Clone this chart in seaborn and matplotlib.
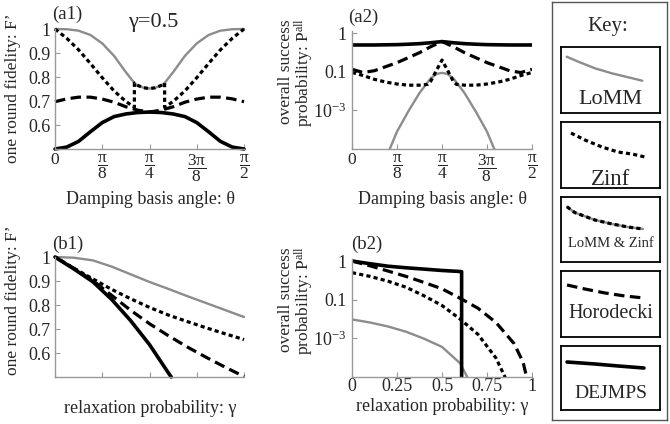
import numpy as np
import matplotlib
matplotlib.use("Agg")
import matplotlib.pyplot as plt
from matplotlib.ticker import NullLocator
import seaborn as sns

# ---------------- data ----------------
# (a1) one round fidelity vs damping basis angle; theta given in units of pi/2
a1_grid = [0, 0.0625, 0.125, 0.1875, 0.25, 0.3125, 0.375, 0.4375, 0.5,
           0.5625, 0.625, 0.6875, 0.75, 0.8125, 0.875, 0.9375, 1.0]
a1_lomm_theta = [0, 0.0625, 0.125, 0.1875, 0.25, 0.3125, 0.375, 0.42, 0.4375, 0.47, 0.5,
                 0.53, 0.5625, 0.58, 0.625, 0.6875, 0.75, 0.8125, 0.875, 0.9375, 1.0]
a1_lomm = [1.0, 0.999, 0.993, 0.975, 0.94, 0.888, 0.82, 0.775, 0.765, 0.755, 0.752,
           0.755, 0.765, 0.775, 0.82, 0.888, 0.94, 0.975, 0.993, 0.999, 1.0]
a1_zinf_theta = [0, 0.0625, 0.125, 0.1875, 0.25, 0.3125, 0.375, 0.42, 0.42, 0.4375, 0.47, 0.5,
                 0.53, 0.5625, 0.58, 0.58, 0.625, 0.6875, 0.75, 0.8125, 0.875, 0.9375, 1.0]
a1_zinf = [1.0, 0.961, 0.913, 0.856, 0.797, 0.742, 0.698, 0.674, 0.775, 0.765, 0.755, 0.752,
           0.755, 0.765, 0.775, 0.674, 0.698, 0.742, 0.797, 0.856, 0.913, 0.961, 1.0]
a1_horo = [0.697, 0.709, 0.716, 0.716, 0.708, 0.695, 0.676, 0.662, 0.654,
           0.662, 0.676, 0.695, 0.708, 0.716, 0.716, 0.709, 0.697]
a1_dejmps = [0.5, 0.508, 0.532, 0.572, 0.61, 0.635, 0.646, 0.652, 0.654,
             0.652, 0.646, 0.635, 0.61, 0.572, 0.532, 0.508, 0.5]

# (a2) overall success probability vs damping basis angle
a2_dejmps = [0.49, 0.49, 0.49, 0.495, 0.5, 0.513, 0.53, 0.56, 0.6,
             0.56, 0.53, 0.513, 0.5, 0.495, 0.49, 0.49, 0.49]
a2_horo = [0.115, 0.09, 0.106, 0.135, 0.171, 0.23, 0.31, 0.443, 0.6,
           0.443, 0.31, 0.23, 0.171, 0.135, 0.106, 0.09, 0.115]
a2_zinf_theta = [0, 0.0625, 0.125, 0.1875, 0.25, 0.3125, 0.375, 0.42, 0.4375, 0.47, 0.5,
                 0.53, 0.5625, 0.58, 0.625, 0.6875, 0.75, 0.8125, 0.875, 0.9375, 1.0]
a2_zinf = [0.091, 0.063, 0.040, 0.029, 0.023, 0.020, 0.020, 0.022, 0.032, 0.110, 0.2,
           0.110, 0.032, 0.022, 0.020, 0.020, 0.023, 0.029, 0.040, 0.063, 0.091]
a2_lomm_theta = [0.1875, 0.25, 0.3125, 0.375, 0.4375, 0.47, 0.5,
                 0.53, 0.5625, 0.625, 0.6875, 0.75, 0.8125]
a2_lomm = [3.2e-6, 7.9e-5, 8.7e-4, 0.0079, 0.046, 0.076, 0.087,
           0.076, 0.046, 0.0079, 8.7e-4, 7.9e-5, 3.2e-6]

# (b1) one round fidelity vs relaxation probability
b_gamma = [0, 0.1, 0.2, 0.3, 0.4, 0.5, 0.6, 0.7, 0.8, 0.9, 1.0]
b1_lomm = [1.0, 0.997, 0.986, 0.96, 0.928, 0.896, 0.867, 0.837, 0.808, 0.779, 0.75]
b1_zinf = [1.0, 0.953, 0.909, 0.865, 0.826, 0.79, 0.758, 0.731, 0.705, 0.68, 0.656]
b1_horo = [1.0, 0.953, 0.902, 0.84, 0.778, 0.722, 0.672, 0.625, 0.582, 0.541, 0.502]
b1_dejmps_gamma = [0, 0.1, 0.2, 0.3, 0.4, 0.5, 0.6, 0.615]
b1_dejmps = [1.0, 0.95, 0.897, 0.823, 0.735, 0.635, 0.517, 0.5]

# (b2) overall success probability vs relaxation probability
b2_dejmps_gamma = [0, 0.1, 0.2, 0.3, 0.4, 0.5, 0.6, 0.609, 0.609]
b2_dejmps = [1.0, 0.85, 0.733, 0.668, 0.617, 0.569, 0.535, 0.53, 1e-7]
b2_horo_gamma = [0, 0.1, 0.2, 0.3, 0.4, 0.5, 0.6, 0.7, 0.8, 0.9, 0.95, 0.97, 0.98]
b2_horo = [1.0, 0.75, 0.55, 0.40, 0.279, 0.191, 0.109, 0.036, 0.0066, 5.4e-4, 6e-5, 1e-5, 1e-7]
b2_zinf_gamma = [0, 0.1, 0.2, 0.3, 0.4, 0.5, 0.6, 0.7, 0.8, 0.85, 0.86]
b2_zinf = [0.50, 0.40, 0.30, 0.21, 0.126, 0.05, 0.01, 1.6e-3, 9.5e-5, 1e-5, 1e-7]
b2_lomm_gamma = [0, 0.1, 0.2, 0.3, 0.4, 0.5, 0.6, 0.64, 0.66]
b2_lomm = [0.0095, 0.0066, 0.0041, 0.0022, 9.6e-4, 3.6e-4, 5.2e-5, 1e-5, 1e-6]

# ticks / labels
theta_ticks = [0, 0.125, 0.25, 0.375, 0.5]      # in units of pi
theta_labels = ["0", r"$\dfrac{\mathrm{\pi}}{8}$", r"$\dfrac{\mathrm{\pi}}{4}$",
                r"$\dfrac{3\mathrm{\pi}}{8}$", r"$\dfrac{\mathrm{\pi}}{2}$"]
fid_ticks = [0.6, 0.7, 0.8, 0.9, 1.0]
fid_labels = ["0.6", "0.7", "0.8", "0.9", "1"]
prob_ticks = [1e-3, 0.1, 1.0]
prob_labels = [r"10$^{-3}$", "0.1", "1"]
gamma_ticks = [0, 0.25, 0.5, 0.75, 1.0]
gamma_labels = ["0", "0.25", "0.5", "0.75", "1"]

# key sample curves (box-relative coordinates)
key_names = ["LoMM", "Zinf", "LoMM & Zinf", "Horodecki", "DEJMPS"]
key_x = {
    "LoMM": [0.058, 0.175, 0.343, 0.512, 0.68, 0.821],
    "Zinf": [0.101, 0.242, 0.414, 0.576, 0.717, 0.848],
    "LoMM & Zinf": [0.06, 0.14, 0.343, 0.515, 0.677, 0.828],
    "Horodecki": [0.061, 0.242, 0.444, 0.646, 0.838],
    "DEJMPS": [0.061, 0.343, 0.576, 0.838],
}
key_y = {
    "LoMM": [0.853, 0.777, 0.677, 0.602, 0.541, 0.489],
    "Zinf": [0.833, 0.727, 0.621, 0.545, 0.515, 0.47],
    "LoMM & Zinf": [0.85, 0.76, 0.646, 0.585, 0.538, 0.508],
    "Horodecki": [0.788, 0.727, 0.667, 0.621, 0.591],
    "DEJMPS": [0.75, 0.719, 0.688, 0.656],
}

# ---------------- style ----------------
sns.set_style("white")
plt.rcParams["font.family"] = ["Liberation Serif", "DejaVu Serif"]
plt.rcParams["mathtext.fontset"] = "custom"
plt.rcParams["mathtext.rm"] = "Liberation Serif"
plt.rcParams["mathtext.it"] = "Liberation Serif:italic"
plt.rcParams["mathtext.bf"] = "Liberation Serif:bold"

GRAY = "#8c8c8c"
AXC = "#999999"
STY = {
    "LoMM": dict(color=GRAY, lw=1.7, dashes=None),
    "Zinf": dict(color="black", lw=2.3, dashes=(1.3, 1.0)),
    "Horodecki": dict(color="black", lw=2.3, dashes=(3.3, 1.7)),
    "DEJMPS": dict(color="black", lw=2.6, dashes=None),
}

W, H = 670, 424
fig = plt.figure(figsize=(6.7, 4.24), dpi=100)


def rect(l, t, r, b):
    return [l / W, 1 - b / H, (r - l) / W, (b - t) / H]


def px(x, y):
    return x / W, 1 - y / H


def draw(ax, x, y, name, clip=True):
    s = STY[name]
    sns.lineplot(x=list(x), y=list(y), ax=ax, sort=False, estimator=None,
                 color=s["color"], linewidth=s["lw"], clip_on=clip)
    line = ax.lines[-1]
    if s["dashes"] is not None:
        line.set_dashes(s["dashes"])
        line.set_dash_capstyle("butt")


def fwd(p):
    p = np.asarray(p, dtype=float)
    with np.errstate(divide="ignore", invalid="ignore"):
        L = np.log10(np.where(p > 0, p, 1e-30))
    return np.where(L >= -1, L, -1 + (L + 1) / 2)


def inv(f):
    f = np.asarray(f, dtype=float)
    return 10 ** np.where(f >= -1, f, 2 * f + 1)


def style_axes(ax, xpad=5, ypad=3.5, xsize=13):
    for s in ["top", "right"]:
        ax.spines[s].set_visible(False)
    for s in ["left", "bottom"]:
        ax.spines[s].set_color(AXC)
        ax.spines[s].set_linewidth(1.0)
    ax.tick_params(axis="both", which="major", direction="in", length=3.5, width=0.8,
                   color=AXC, labelsize=13, bottom=True, left=True)
    ax.tick_params(axis="x", pad=xpad, labelsize=xsize)
    ax.tick_params(axis="y", pad=ypad)
    ax.set_facecolor("none")
    ax.grid(False)
    ax.set_xlabel("")
    ax.set_ylabel("")


ax_a1 = fig.add_axes(rect(55, 29, 244, 149))
ax_a2 = fig.add_axes(rect(352, 31.4, 532, 149))
ax_b1 = fig.add_axes(rect(55, 257, 244, 377))
ax_b2 = fig.add_axes(rect(352, 259.4, 532, 377))

for ax in (ax_a2, ax_b2):
    ax.set_yscale("function", functions=(fwd, inv))

# (a1)
th = lambda v: np.asarray(v) * np.pi / 2
draw(ax_a1, th(a1_lomm_theta), a1_lomm, "LoMM", clip=False)
draw(ax_a1, th(a1_grid), a1_horo, "Horodecki", clip=False)
draw(ax_a1, th(a1_grid), a1_dejmps, "DEJMPS", clip=False)
draw(ax_a1, th(a1_zinf_theta), a1_zinf, "Zinf", clip=False)

# (a2)
draw(ax_a2, th(a2_lomm_theta), a2_lomm, "LoMM")
draw(ax_a2, th(a1_grid), a2_horo, "Horodecki")
draw(ax_a2, th(a1_grid), a2_dejmps, "DEJMPS")
draw(ax_a2, th(a2_zinf_theta), a2_zinf, "Zinf")

# (b1)
draw(ax_b1, b_gamma, b1_lomm, "LoMM", clip=False)
draw(ax_b1, b_gamma, b1_zinf, "Zinf", clip=False)
draw(ax_b1, b_gamma, b1_horo, "Horodecki", clip=False)
draw(ax_b1, b1_dejmps_gamma, b1_dejmps, "DEJMPS", clip=False)

# (b2)
draw(ax_b2, b2_lomm_gamma, b2_lomm, "LoMM")
draw(ax_b2, b2_zinf_gamma, b2_zinf, "Zinf")
draw(ax_b2, b2_horo_gamma, b2_horo, "Horodecki")
draw(ax_b2, b2_dejmps_gamma, b2_dejmps, "DEJMPS")

for ax in (ax_a1, ax_a2):
    ax.set_xlim(0, np.pi / 2)
    ax.set_xticks(np.asarray(theta_ticks) * np.pi)
    ax.set_xticklabels(theta_labels)
for ax in (ax_b1, ax_b2):
    ax.set_xlim(0, 1)
    ax.set_xticks(gamma_ticks)
ax_b1.set_xticklabels([""] * len(gamma_ticks))
ax_b2.set_xticklabels(gamma_labels)

for ax in (ax_a1, ax_b1):
    ax.set_ylim(0.5, 1.0)
    ax.set_yticks(fid_ticks)
    ax.set_yticklabels(fid_labels)
for ax in (ax_a2, ax_b2):
    ax.set_ylim(1e-5, 1.1)
    ax.set_yticks(prob_ticks)
    ax.set_yticklabels(prob_labels)
    ax.yaxis.set_minor_locator(NullLocator())

style_axes(ax_a1, xpad=2.5, xsize=12.5)
style_axes(ax_a2, xpad=2.5, ypad=4, xsize=12.5)
style_axes(ax_b1, xpad=5)
style_axes(ax_b2, xpad=1, ypad=4)

# axis labels and panel texts
fs_lab = 13
fig.text(*px(150, 204), "Damping basis angle: θ", ha="center", va="baseline", fontsize=fs_lab)
fig.text(*px(442, 204), "Damping basis angle: θ", ha="center", va="baseline", fontsize=fs_lab)
fig.text(*px(150, 413), "relaxation probability: γ", ha="center", va="baseline", fontsize=fs_lab)
fig.text(*px(442, 411), "relaxation probability: γ", ha="center", va="baseline", fontsize=fs_lab)

fig.text(*px(13, 88), "one round fidelity: F’", rotation=90, ha="center", va="center", fontsize=12.5)
fig.text(*px(13, 300), "one round fidelity: F’", rotation=90, ha="center", va="center", fontsize=12.5)
plabel = "overall success\nprobability: P$^{\\mathrm{all}}$"
fig.text(*px(297, 72), plabel, rotation=90, ha="center", va="center", fontsize=12.5,
         linespacing=0.95, multialignment="center")
fig.text(*px(297, 300), plabel, rotation=90, ha="center", va="center", fontsize=12.5,
         linespacing=0.95, multialignment="center")

fig.text(*px(67, 14), "(a1)", ha="center", va="center", fontsize=13.5)
fig.text(*px(363, 17), "(a2)", ha="center", va="center", fontsize=13.5)
fig.text(*px(68, 244), "(b1)", ha="center", va="center", fontsize=13.5)
fig.text(*px(367, 244), "(b2)", ha="center", va="center", fontsize=13.5)
fig.text(*px(153, 22), "γ=0.5", ha="center", va="center", fontsize=16)

# ---------------- key ----------------
ax_key = fig.add_axes(rect(552, 2, 667, 420))
ax_key.set_xticks([])
ax_key.set_yticks([])
ax_key.set_facecolor("white")
for s in ax_key.spines.values():
    s.set_visible(True)
    s.set_color("#555555")
    s.set_linewidth(1.0)
fig.text(*px(608, 31), "Key:", ha="center", va="baseline", fontsize=15)

key_boxes = [(47, 113), (122, 188), (197, 262), (271, 337), (346, 410)]
key_base = [0.136, 0.045, 0.23, 0.288, 0.1875]
key_fs = [16, 16.5, 10.5, 14.5, 14]
for name, (t, b), yb, fs in zip(key_names, key_boxes, key_base, key_fs):
    kax = fig.add_axes(rect(561, t, 660, b))
    kax.set_xlim(0, 1)
    kax.set_ylim(0, 1)
    kax.set_xticks([])
    kax.set_yticks([])
    kax.set_facecolor("white")
    for s in kax.spines.values():
        s.set_visible(True)
        s.set_color("black")
        s.set_linewidth(1.3)
    if name == "LoMM & Zinf":
        draw(kax, key_x[name], key_y[name], "LoMM")
        draw(kax, key_x[name], key_y[name], "Zinf")
    else:
        draw(kax, key_x[name], key_y[name], name)
    kax.set_xlabel("")
    kax.set_ylabel("")
    kax.text(0.5, yb, name, ha="center", va="baseline", fontsize=fs)

fig.savefig("out.png", dpi=100)
